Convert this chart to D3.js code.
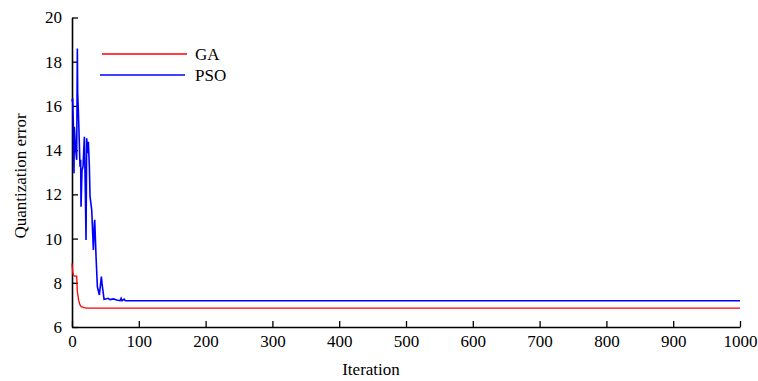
<!DOCTYPE html>
<html>
<head>
  <meta charset="utf-8">
  <script src="https://d3js.org/d3.v7.min.js"></script>
  <style>
    body { margin: 0; background: #fff; }
  </style>
</head>
<body>
  <svg id="chart" width="758" height="381"></svg>
  <script>
    const serif = '"Liberation Serif", "DejaVu Serif", "Times New Roman", serif';

    // GA curve
    const gaIter = [0, 1, 2, 4, 7, 8, 10, 12, 14, 18, 22, 30, 1000];
    const gaError = [8.88, 8.5, 8.35, 8.3, 8.3, 7.6, 7.2, 7.0, 6.92, 6.88, 6.85, 6.85, 6.85];

    // PSO curve
    const psoIter = [0, 1, 2, 3, 3.5, 5.5, 7, 8, 8.5, 9.5, 11, 12, 13, 13.5, 15, 16.5, 18.5, 20, 21, 22, 23.5, 24.5, 26, 27, 29.5, 32, 33.5, 34, 36, 38, 41, 44, 45, 48, 52, 54, 57, 62, 67, 72, 73.5, 75, 78, 80, 1000];
    const psoError = [16.2, 16.35, 15.2, 12.95, 15.06, 14.0, 13.56, 18.6, 16.57, 15.8, 14.3, 13.25, 13.56, 11.44, 13.1, 13.25, 14.6, 12.05, 9.94, 14.54, 13.86, 14.38, 13.25, 11.9, 11.3, 9.48, 10.7, 10.85, 9.18, 7.82, 7.45, 8.28, 7.95, 7.25, 7.28, 7.3, 7.24, 7.27, 7.22, 7.19, 7.3, 7.19, 7.26, 7.19, 7.19];

    const xTicks = [0, 100, 200, 300, 400, 500, 600, 700, 800, 900, 1000];
    const yTicks = [6, 8, 10, 12, 14, 16, 18, 20];

    const svg = d3.select("#chart").attr("font-family", serif);

    const x = d3.scaleLinear().domain([0, 1000]).range([72, 740]);
    const y = d3.scaleLinear().domain([6, 20]).range([327, 17.5]);

    // ejes (marcas hacia dentro)
    const xAxis = d3.axisBottom(x).tickValues(xTicks).tickFormat(d3.format("d"))
      .tickSizeInner(-6).tickSizeOuter(0).tickPadding(8);
    const yAxis = d3.axisLeft(y).tickValues(yTicks).tickFormat(d3.format("d"))
      .tickSizeInner(-6).tickSizeOuter(0).tickPadding(10);

    const gx = svg.append("g").attr("transform", "translate(0,327)").call(xAxis);
    const gy = svg.append("g").attr("transform", "translate(72,0)").call(yAxis);

    [gx, gy].forEach(g => {
      g.attr("font-family", serif).attr("font-size", 17);
      g.select(".domain").attr("stroke", "#000").attr("stroke-width", 1.6);
      g.selectAll(".tick line").attr("stroke", "#000").attr("stroke-width", 1.3);
      g.selectAll(".tick text").attr("fill", "#000");
    });

    // lineas
    const line = d3.line().x(d => x(d[0])).y(d => y(d[1]));

    svg.append("path")
      .datum(d3.zip(psoIter, psoError))
      .attr("fill", "none")
      .attr("stroke", "#0000ff")
      .attr("stroke-width", 1.6)
      .attr("d", line);

    svg.append("path")
      .datum(d3.zip(gaIter, gaError))
      .attr("fill", "none")
      .attr("stroke", "#ff0000")
      .attr("stroke-width", 1.3)
      .attr("d", line);

    // leyenda
    const legend = [
      { name: "GA", color: "#ff0000", x1: 102, x2: 187, y: 54 },
      { name: "PSO", color: "#0000ff", x1: 100, x2: 185, y: 75 }
    ];
    legend.forEach(l => {
      svg.append("line")
        .attr("x1", l.x1).attr("x2", l.x2)
        .attr("y1", l.y).attr("y2", l.y)
        .attr("stroke", l.color)
        .attr("stroke-width", 1.4);
      svg.append("text")
        .attr("x", 195)
        .attr("y", l.y + 6)
        .attr("font-size", 17)
        .text(l.name);
    });

    // titulos de ejes
    svg.append("text")
      .attr("x", 371)
      .attr("y", 375)
      .attr("text-anchor", "middle")
      .attr("font-size", 17)
      .text("Iteration");

    svg.append("text")
      .attr("transform", "translate(26,176) rotate(-90)")
      .attr("text-anchor", "middle")
      .attr("font-size", 17)
      .text("Quantization error");
  </script>
</body>
</html>
